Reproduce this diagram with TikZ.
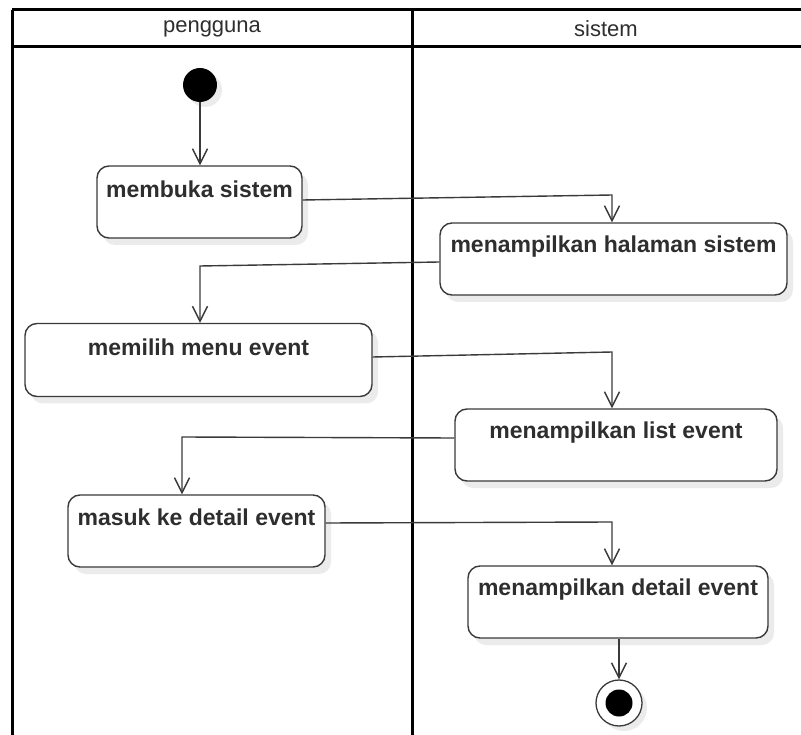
\documentclass[tikz,border=0pt]{standalone}
\usepackage{fontspec}
\setmainfont{Liberation Sans}
\usetikzlibrary{arrows.meta,calc,shadows}
\definecolor{ln}{HTML}{3A3A3A}
\definecolor{tx}{HTML}{2E2E2E}
\begin{document}
\begin{tikzpicture}[x=1pt,y=-1pt,
  frame/.style={draw=black,line width=3pt},
  hdr/.style={font=\fontsize{22}{26}\selectfont,text=tx,inner sep=0pt},
  act/.style={draw=ln,line width=1.4pt,rounded corners=12pt,fill=white,minimum height=72pt,inner sep=0pt,
    drop shadow={shadow xshift=6pt,shadow yshift=-7pt,fill=black,opacity=0.08}},
  lbl/.style={font=\bfseries\fontsize{23}{27}\selectfont,text=tx,inner sep=0pt},
  flow/.style={draw=ln,line width=1.4pt,-{Straight Barb[length=15pt,width=15pt,line width=1.4pt]}}]
\path[use as bounding box] (0,0) rectangle (801,735);
\clip (0,0) rectangle (801,735);
% swimlane frame
\draw[frame] (12,10) -- (810,10);
\draw[frame] (12,47) -- (810,47);
\draw[frame] (12,10) -- (12,745);
\draw[frame] (412,10) -- (412,745);
\node[hdr] (h1) at (212,29) {pengguna};
\node[hdr] (h2) at (606,29) {sistem};
% start / end
\node[circle,fill=black,minimum size=34pt,inner sep=0pt,
  drop shadow={shadow xshift=5pt,shadow yshift=-5pt,fill=black,opacity=0.08}] (s) at (200,85) {};
\node[circle,draw=ln,line width=1.3pt,fill=white,minimum size=46pt,inner sep=0pt,
  drop shadow={shadow xshift=5pt,shadow yshift=-5pt,fill=black,opacity=0.08}] (e) at (619,703) {};
\node[circle,fill=black,minimum size=27pt,inner sep=0pt] (ei) at (e) {};
% activities
\node[act,minimum width=205pt] (b1) at (199.5,202) {};
\node[lbl] (t1) at ($(b1.north)+(0,24)$) {membuka sistem};
\node[act,minimum width=347pt] (b2) at (613.5,259) {};
\node[lbl] (t2) at ($(b2.north)+(0,24)$) {menampilkan halaman sistem};
\node[act,minimum width=347pt,minimum height=73pt] (b3) at (198.5,360) {};
\node[lbl] (t3) at ($(b3.north)+(0,24)$) {memilih menu event};
\node[act,minimum width=322pt] (b4) at (616,445) {};
\node[lbl] (t4) at ($(b4.north)+(0,24)$) {menampilkan list event};
\node[act,minimum width=257pt] (b5) at (196.5,531) {};
\node[lbl] (t5) at ($(b5.north)+(0,23)$) {masuk ke detail event};
\node[act,minimum width=300pt] (b6) at (618,602) {};
\node[lbl] (t6) at ($(b6.north)+(0,24)$) {menampilkan detail event};
% flows
\coordinate (k1) at (612,195);
\coordinate (k2) at (200,266);
\coordinate (k3) at (612,352);
\coordinate (k4) at (182,437);
\coordinate (k5) at (612,522);
\draw[flow] (s.south) -- (s.south |- b1.north);
\draw[flow] ($(b1.east)+(0,-2)$) -- (k1) -- (k1 |- b2.north);
\draw[flow] ($(b2.west)+(0,3)$) -- (k2) -- (k2 |- b3.north);
\draw[flow] ($(b3.east)+(0,-3)$) -- (k3) -- (k3 |- b4.north);
\draw[flow] ($(b4.west)+(0,-7)$) -- (k4) -- (k4 |- b5.north);
\draw[flow] ($(b5.east)+(0,-8)$) -- (k5) -- (k5 |- b6.north);
\draw[flow] (b6.south -| e) -- (e.north);
\end{tikzpicture}
\end{document}
